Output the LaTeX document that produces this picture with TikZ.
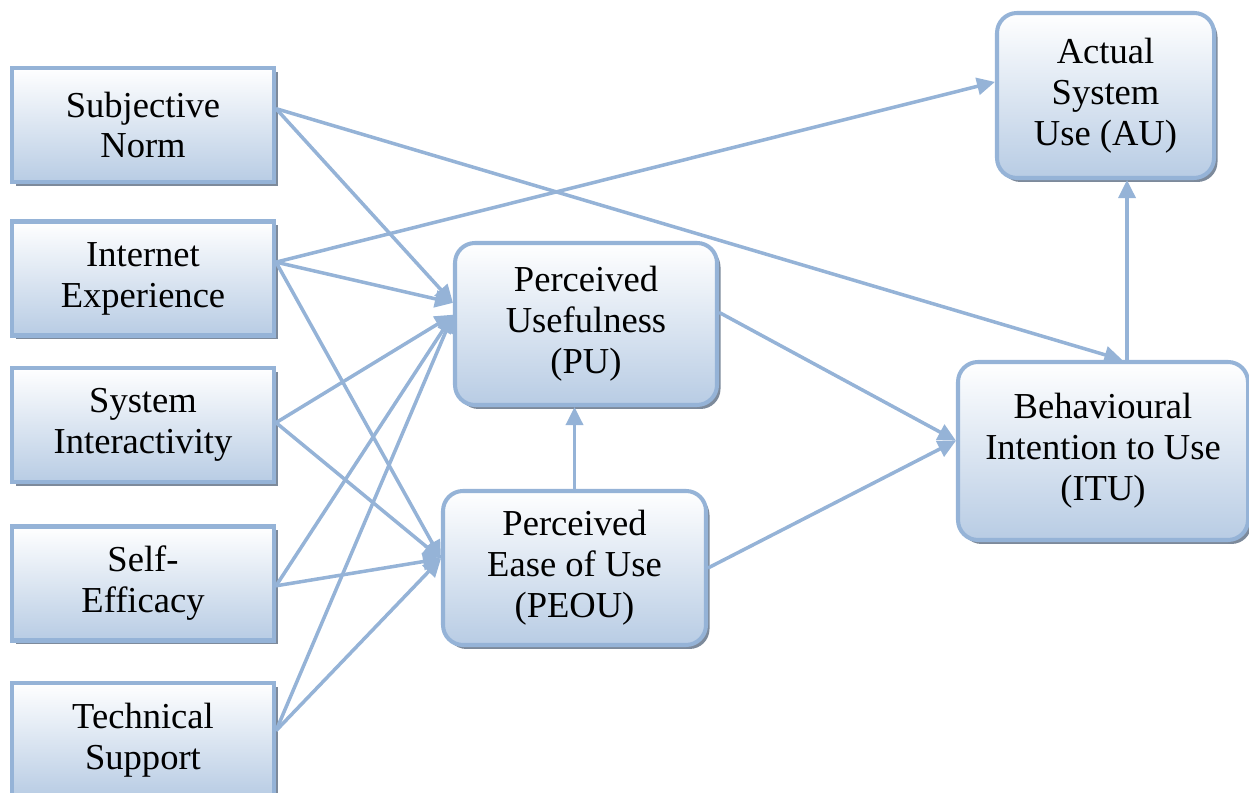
\documentclass[tikz,border=0pt]{standalone}
\usepackage{fontspec}
\setmainfont{Liberation Serif}
\usepackage{xcolor}
\usetikzlibrary{arrows.meta,shadows}
\definecolor{linkblue}{RGB}{149,179,215}
\definecolor{boxblue}{RGB}{184,204,228}
\definecolor{shadowgray}{RGB}{125,138,155}
\tikzset{
	factor/.style={
			draw=linkblue, line width=2.3pt,
			top color=white, bottom color=boxblue,
			drop shadow={shadow xshift=0.07cm, shadow yshift=-0.08cm, fill=shadowgray, opacity=1},
			align=center, inner sep=0pt,
			font=\fontsize{20.8}{23.3}\selectfont
		},
	construct/.style={factor, rounded corners=0.4cm},
	link/.style={draw=linkblue, line width=2pt, -{Triangle[length=0.36cm,width=0.34cm]}}
}

\begin{document}
\begin{tikzpicture}
		\useasboundingbox (0,0) rectangle (24.98,15.86);

		% External variables
		\node[factor, minimum width=5.24cm, minimum height=2.28cm] (sn) at (2.86,13.36) {Subjective\\Norm};
		\node[factor, minimum width=5.24cm, minimum height=2.28cm] (ie) at (2.86,10.29) {Internet\\Experience};
		\node[factor, minimum width=5.24cm, minimum height=2.28cm] (si) at (2.86,7.36) {System\\Interactivity};
		\node[factor, minimum width=5.24cm, minimum height=2.28cm] (se) at (2.86,4.19) {Self-\\Efficacy};
		\node[factor, minimum width=5.24cm, minimum height=2.28cm] (ts) at (2.86,1.06) {Technical\\Support};

		% TAM constructs
		\node[construct, minimum width=5.24cm, minimum height=3.24cm] (pu) at (11.72,9.38) {Perceived\\Usefulness\\(PU)};
		\node[construct, minimum width=5.26cm, minimum height=3.08cm] (peou) at (11.49,4.50) {Perceived\\Ease of Use\\(PEOU)};
		\node[construct, minimum width=5.8cm, minimum height=3.56cm] (itu) at (22.06,6.84) {Behavioural\\Intention to Use\\(ITU)};
		\node[construct, minimum width=4.34cm, minimum height=3.3cm] (au) at (22.11,13.95) {Actual\\System\\Use (AU)};

		% Paths into PU and PEOU
		\draw[link] (sn.7) -- (pu.171);
		\draw[link] (ie.7) -- (pu.171);
		\draw[link] (si.1) -- (pu.176);
		\draw[link] (se.-1) -- (pu.176);
		\draw[link] (ts.4) -- (pu.176);
		\draw[link] (ie.7) -- (peou.176);
		\draw[link] (si.1) -- (peou.176);
		\draw[link] (se.-1) -- (peou.176);
		\draw[link] (ts.4) -- (peou.176);
		\draw[link] (peou.north) -- (peou.north |- pu.south);

		% Paths into ITU and AU
		\draw[link] (sn.7) -- (itu.78);
		\draw[link] (pu.5) -- (itu.176);
		\draw[link] (peou.east) -- (itu.176);
		\draw[link] (ie.7) -- (au.173);
		\coordinate (itutop) at ([xshift=0.48cm]itu.north);
		\coordinate (aubottom) at (itutop |- au.south);
		\draw[link] (itutop) -- (aubottom);
	\end{tikzpicture}
\end{document}
